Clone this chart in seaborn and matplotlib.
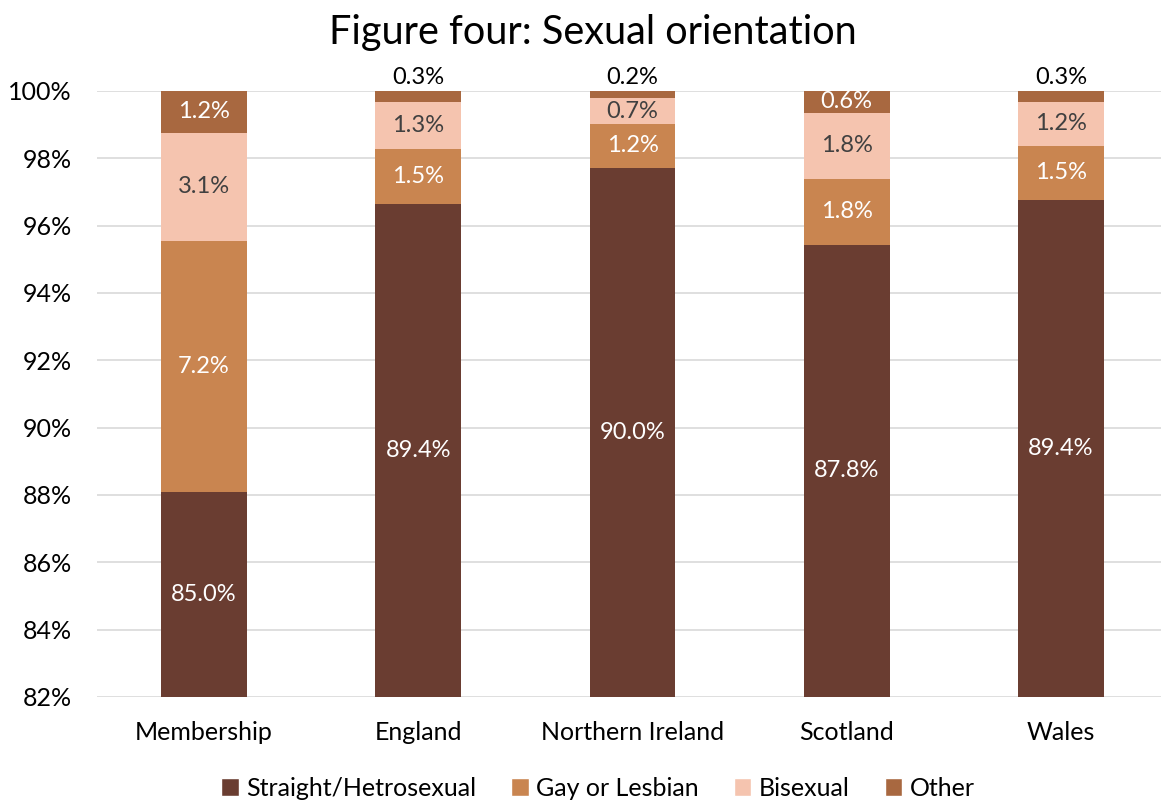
import numpy as np
import pandas as pd
import matplotlib
matplotlib.use("Agg")
import matplotlib.pyplot as plt
import seaborn as sns
from matplotlib.patches import Patch

sns.set_style("white")
plt.rcParams['font.family'] = ['Lato', 'DejaVu Sans']
plt.rcParams['text.color'] = 'black'

# data (labels show the raw shares; bars are scaled to 100%)
categories = ["Membership", "England", "Northern Ireland", "Scotland", "Wales"]
series_names = ["Straight/Hetrosexual", "Gay or Lesbian", "Bisexual", "Other"]
straight = [85.0, 89.4, 90.0, 87.8, 89.4]
gay = [7.2, 1.5, 1.2, 1.8, 1.5]
bisexual = [3.1, 1.3, 0.7, 1.8, 1.2]
other = [1.2, 0.3, 0.2, 0.6, 0.3]
colors = ["#6A3D31", "#C98550", "#F5C4AF", "#A86840"]
text_colors = ["white", "white", "#404040", "white"]

raw = np.array([straight, gay, bisexual, other])
share = raw / raw.sum(axis=0) * 100
tops = np.cumsum(share, axis=0)
bottoms = tops - share

fig = plt.figure(figsize=(11.61, 8.02), dpi=100)
ax = fig.add_axes([97 / 1161, 1 - 697 / 802, 1 - 97 / 1161, (697 - 91) / 802])

# draw cumulative tops from the highest layer down so each layer covers the next
for i in range(len(series_names) - 1, -1, -1):
    df = pd.DataFrame({"cat": categories, "val": tops[i]})
    sns.barplot(data=df, x="cat", y="val", color=colors[i], width=0.4,
                saturation=1, linewidth=0, edgecolor="none", ax=ax, zorder=2)

ymin, ymax = 82, 100
ax.set_ylim(ymin, ymax)
ax.set_xlim(-0.5, 4.467)

for i in range(len(series_names)):
    for j in range(len(categories)):
        lo = max(bottoms[i, j], ymin)
        hi = tops[i, j]
        label = f"{raw[i, j]:.1f}%"
        if i == 3 and raw[i, j] < 0.5:
            ax.text(j, ymax + 0.1, label, ha="center", va="bottom",
                    fontsize=17, color="black", clip_on=False)
        else:
            ax.text(j, (lo + hi) / 2, label, ha="center", va="center",
                    fontsize=17, color=text_colors[i], clip_on=True, zorder=3)

ax.set_yticks(np.arange(82, 101, 2))
ax.set_yticklabels([f"{v}%" for v in range(82, 101, 2)])
ax.yaxis.grid(True, color="#D9D9D9", linewidth=1.2, zorder=0)
ax.set_axisbelow(True)
for s in ax.spines.values():
    s.set_visible(False)
ax.tick_params(axis="both", length=0, labelsize=18, colors="black")
ax.tick_params(axis="x", pad=17)
ax.tick_params(axis="y", pad=18)
ax.set_xlabel("")
ax.set_ylabel("")

fig.suptitle("Figure four: Sexual orientation", fontsize=28.5, x=593 / 1161, y=0.982,
             color="black")

handles = [Patch(facecolor=c, label=n) for c, n in zip(colors, series_names)]
fig.legend(handles=handles, loc="center", bbox_to_anchor=(598 / 1161, 1 - 788 / 802),
           ncol=4, frameon=False, fontsize=18, handlelength=0.7, handleheight=0.7,
           handletextpad=0.3, columnspacing=1.4, labelcolor="black")

fig.savefig("out.png", dpi=100)
